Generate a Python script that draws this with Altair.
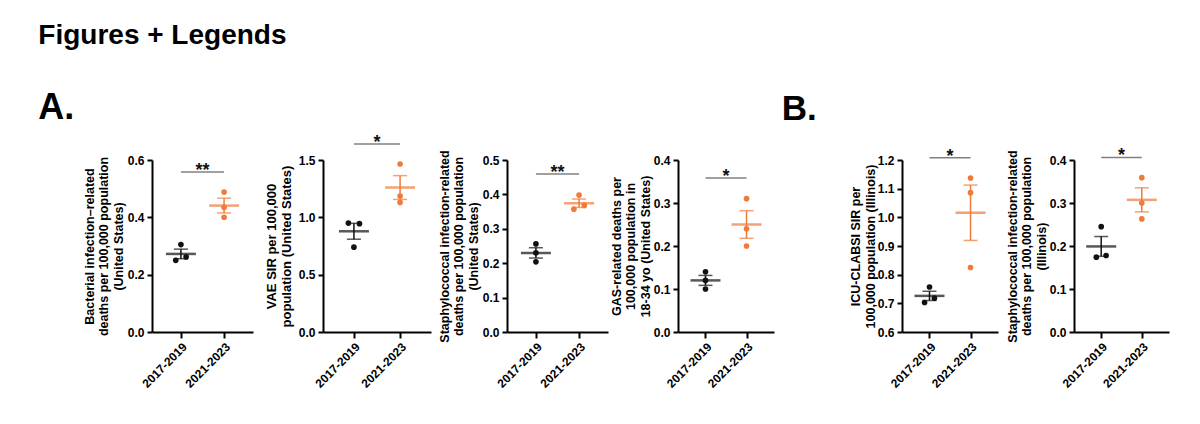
import json
import altair as alt
import numpy as np
import pandas as pd

# ---------------- data ----------------
categories = ["2017-2019", "2021-2023"]

y_titles = [
    ["Bacterial infection–related", "deaths per 100,000 population", "(United States)"],
    ["VAE SIR per 100,000", "population (United States)"],
    ["Staphylococcal infection-related", "deaths per 100,000 population", "(United States)"],
    ["GAS-related deaths per", "100,000 population in", "18-34 yo (United States)"],
    ["ICU-CLABSI SIR per", "100,000 population (Illinois)"],
    ["Staphylococcal infection-related", "deaths per 100,000 population", "(Illinois)"],
]
y_domains = [[0, 0.6], [0, 1.5], [0, 0.5], [0, 0.4], [0.6, 1.2], [0, 0.4]]
y_ticks = [
    [0, 0.2, 0.4, 0.6],
    [0, 0.5, 1.0, 1.5],
    [0, 0.1, 0.2, 0.3, 0.4, 0.5],
    [0, 0.1, 0.2, 0.3, 0.4],
    [0.6, 0.7, 0.8, 0.9, 1.0, 1.1, 1.2],
    [0, 0.1, 0.2, 0.3, 0.4],
]
before_values = [
    [0.305, 0.250, 0.262],
    [0.950, 0.945, 0.740],
    [0.256, 0.230, 0.204],
    [0.140, 0.120, 0.100],
    [0.757, 0.703, 0.718],
    [0.245, 0.174, 0.178],
]
after_values = [
    [0.488, 0.435, 0.400],
    [1.465, 1.185, 1.130],
    [0.398, 0.357, 0.368],
    [0.310, 0.240, 0.200],
    [1.137, 1.086, 0.825],
    [0.359, 0.300, 0.263],
]
# column slot of each replicate in the scatter (-1 left, 0 centre, 1 right)
before_slots = [[0, -1, 1], [-1, 1, 0], [0, 0, 0], [0, 0, 0], [0, -1, 1], [0, -1, 1]]
after_slots = [[0, 0, 0], [0, 0, 0], [0, -1, 1], [0, 0, 0], [0, 0, 0], [0, 0, 0]]
sig_labels = ["**", "*", "**", "*", "*", "*"]
sig_levels = [0.558, 1.64, 0.459, 0.358, 1.208, 0.406]
panel_letters = {0: "A.", 4: "B."}

# ---------------- styling ----------------
BLACK = "#111111"
ORANGE = "#EF7B3B"
GRAY = "#808080"
FONT = "Liberation Sans"
JITTER = 0.12          # horizontal spread of overlapping replicates, in group units
widths = [101, 108, 101, 96, 96, 95]
gaps = [70, 76, 70, 128, 76]
HEIGHT = 172
title_sizes = [12.5, 13, 12.5, 12.5, 12.5, 12.5]
title_pads = [2, 5, 2, 1, 0, 1]
letter_style = {0: dict(fontSize=36, dx=-45, offset=27),
                4: dict(fontSize=35, dx=-68, offset=21)}

label_expr = json.dumps(categories) + "[datum.value]"


def panel(i):
    rows = []
    for g, vals, slots in ((0, before_values[i], before_slots[i]),
                           (1, after_values[i], after_slots[i])):
        for v, s in zip(vals, slots):
            rows.append({"period": categories[g], "gi": g, "value": v, "slot": s})
    pts = pd.DataFrame(rows)
    summ = pts.groupby(["period", "gi"], as_index=False)["value"].agg(
        mean="mean", sd="std", n="count")
    summ["sem"] = summ["sd"] / np.sqrt(summ["n"])
    summ["lo"] = summ["mean"] - summ["sem"]
    summ["hi"] = summ["mean"] + summ["sem"]
    sig = pd.DataFrame({"a": [0], "b": [1], "mid": [0.5],
                        "level": [sig_levels[i]], "label": [sig_labels[i]]})

    xscale = alt.Scale(domain=[-0.67, 1.67], nice=False, zero=False)
    xaxis = alt.Axis(values=[0, 1], labelExpr=label_expr, title=None,
                     labelAngle=-45, tickSize=6, labelPadding=3)
    yscale = alt.Scale(domain=y_domains[i], nice=False, zero=False)
    yaxis = alt.Axis(values=y_ticks[i], format=".1f", title=y_titles[i],
                     titleFontSize=title_sizes[i], titlePadding=title_pads[i],
                     titleLineHeight=14.5, tickSize=5, labelPadding=3)

    def X(f):
        return alt.X(f"{f}:Q", scale=xscale, axis=xaxis)

    def Y(f):
        return alt.Y(f"{f}:Q", scale=yscale, axis=yaxis)

    color = alt.Color("period:N", scale=alt.Scale(domain=categories, range=[BLACK, ORANGE]),
                      legend=None)

    err = alt.Chart(summ).mark_rule(strokeWidth=1.5).encode(
        x=X("gi"), y=Y("lo"), y2="hi", color=color)
    cap_lo = alt.Chart(summ).mark_tick(orient="horizontal", size=14, thickness=1.5).encode(
        x=X("gi"), y=Y("lo"), color=color)
    cap_hi = alt.Chart(summ).mark_tick(orient="horizontal", size=14, thickness=1.5).encode(
        x=X("gi"), y=Y("hi"), color=color)
    mean = alt.Chart(summ).mark_tick(orient="horizontal", size=30, thickness=2.5).encode(
        x=X("gi"), y=Y("mean"), color=color)
    points = alt.Chart(pts).transform_calculate(
        xpos=f"datum.gi + datum.slot * {JITTER}"
    ).mark_circle(size=32, opacity=1).encode(
        x=X("xpos"), y=Y("value"), color=color)
    sig_rule = alt.Chart(sig).mark_rule(color=GRAY, strokeWidth=1.5).encode(
        x=X("a"), x2="b", y=Y("level"))
    sig_text = alt.Chart(sig).mark_text(fontSize=18, fontWeight="bold", font=FONT,
                                        baseline="alphabetic", dy=4, color=BLACK).encode(
        x=X("mid"), y=Y("level"), text="label:N")

    props = dict(width=widths[i], height=HEIGHT)
    if i in panel_letters:
        props["title"] = alt.TitleParams(panel_letters[i], anchor="start",
                                         **letter_style[i])
    return alt.layer(err, cap_lo, cap_hi, mean, points, sig_rule, sig_text).properties(**props)


def spacer(w):
    return alt.Chart(pd.DataFrame({"s": [0]})).mark_point(opacity=0).encode(
        x=alt.value(0), y=alt.value(0)).properties(width=w, height=HEIGHT)


cells = []
for i in range(6):
    cells.append(panel(i))
    if i < 5:
        cells.append(spacer(gaps[i]))

chart = alt.hconcat(*cells, spacing=0, bounds="flush").properties(
    title=alt.TitleParams("Figures + Legends", anchor="start", fontSize=28, offset=40),
    padding={"left": 30, "top": 14, "right": 5, "bottom": 5},
).configure_view(stroke=None).configure_title(
    font=FONT, fontWeight="bold", color="#000000"
).configure_axis(
    domainColor="#000000", domainWidth=2, tickColor="#000000", tickWidth=2,
    labelFont=FONT, labelFontWeight="bold", labelFontSize=12, labelColor="#000000",
    titleFont=FONT, titleFontWeight="bold", titleColor="#000000", grid=False,
)

chart.save("out.html", embed_options={"renderer": "svg", "actions": False})
